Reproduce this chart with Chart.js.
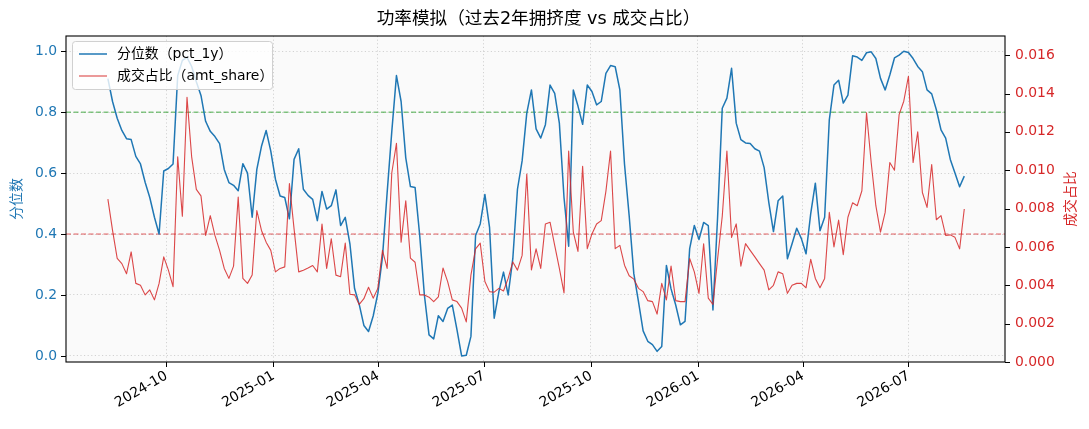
<!DOCTYPE html>
<html>
<head>
<meta charset="utf-8">
<script src="https://cdn.jsdelivr.net/npm/chart.js@4.4.1/dist/chart.umd.min.js"></script>
<style>
  html, body { margin: 0; padding: 0; background: #fff; }
</style>
</head>
<body>
<canvas id="chart" width="1089" height="429"></canvas>
<script>
// * data
const startDate = "2024-08-12"; // first sample, one sample every stepDays
const stepDays = 4;

const tickLabels = ["2024-10", "2025-01", "2025-04", "2025-07", "2025-10", "2026-01", "2026-04", "2026-07"];
const leftTicks = [0, 0.2, 0.4, 0.6, 0.8, 1.0];
const rightTicks = [0, 0.002, 0.004, 0.006, 0.008, 0.01, 0.012, 0.014, 0.016];

const highLine = 0.8;
const lowLine = 0.4;

const pctValues = [
  0.91, 0.835, 0.78, 0.74, 0.713, 0.71, 0.655, 0.63, 0.57, 0.52,
  0.455, 0.40, 0.607, 0.615, 0.63, 0.92, 0.97, 0.98, 0.95, 0.90,
  0.855, 0.77, 0.737, 0.72, 0.697, 0.612, 0.569, 0.56, 0.542, 0.631,
  0.60, 0.455, 0.612, 0.688, 0.74, 0.672, 0.58, 0.525, 0.52, 0.45,
  0.645, 0.68, 0.547, 0.527, 0.514, 0.444, 0.54, 0.482, 0.493, 0.545,
  0.428, 0.455, 0.368, 0.221, 0.169, 0.10, 0.08, 0.131, 0.205, 0.325,
  0.536, 0.737, 0.92, 0.835, 0.65, 0.556, 0.553, 0.395, 0.20, 0.069,
  0.056, 0.132, 0.113, 0.156, 0.167, 0.086, 0.0, 0.002, 0.064, 0.395,
  0.433, 0.53, 0.422, 0.124, 0.21, 0.275, 0.20, 0.319, 0.547, 0.64,
  0.797, 0.873, 0.745, 0.715, 0.759, 0.889, 0.862, 0.764, 0.52, 0.36,
  0.873, 0.82, 0.76, 0.889, 0.868, 0.824, 0.835, 0.927, 0.953, 0.949,
  0.873, 0.629, 0.46, 0.27, 0.178, 0.082, 0.048, 0.037, 0.015, 0.031,
  0.297, 0.22, 0.167, 0.102, 0.113, 0.352, 0.428, 0.382, 0.438, 0.428,
  0.151, 0.455, 0.813, 0.846, 0.944, 0.764, 0.71, 0.699, 0.697, 0.68,
  0.672, 0.618, 0.504, 0.408, 0.509, 0.525, 0.319, 0.368, 0.419, 0.385,
  0.335, 0.466, 0.567, 0.411, 0.455, 0.775, 0.889, 0.905, 0.83, 0.856,
  0.985, 0.981, 0.97, 0.995, 0.998, 0.976, 0.911, 0.873, 0.922, 0.978,
  0.987, 1.0, 0.996, 0.976, 0.95, 0.933, 0.873, 0.86, 0.808, 0.742,
  0.715, 0.645, 0.60, 0.555, 0.59,
];

const shareValues = [
  0.00849, 0.00686, 0.0054, 0.00513, 0.0046, 0.00574, 0.0041, 0.004, 0.0035, 0.00376,
  0.00324, 0.0041, 0.00548, 0.00479, 0.00393, 0.0107, 0.0076, 0.0138, 0.0107, 0.009,
  0.00866, 0.0066, 0.00763, 0.0066, 0.00582, 0.00488, 0.00436, 0.005, 0.0086, 0.00436,
  0.0041, 0.00454, 0.0079, 0.00686, 0.00625, 0.00582, 0.0047, 0.00488, 0.00496, 0.0093,
  0.00694, 0.0047, 0.00479, 0.0049, 0.00503, 0.0047, 0.0072, 0.00488, 0.00643, 0.00453,
  0.00445, 0.0062, 0.00353, 0.0035, 0.003, 0.0033, 0.0039, 0.00333, 0.00384, 0.00582,
  0.00488, 0.00987, 0.0114, 0.00625, 0.0084, 0.00542, 0.0052, 0.0035, 0.0035, 0.00338,
  0.00315, 0.0034, 0.0049, 0.00419, 0.00324, 0.00315, 0.00281, 0.00209, 0.00453, 0.0059,
  0.0062, 0.0042, 0.00367, 0.00364, 0.00384, 0.0037, 0.00436, 0.00522, 0.00479, 0.00556,
  0.0098, 0.0048, 0.0059, 0.00488, 0.0072, 0.00729, 0.00608, 0.00488, 0.0036, 0.011,
  0.00677, 0.00577, 0.0102, 0.00591, 0.00668, 0.0072, 0.00737, 0.0089, 0.011, 0.00591,
  0.00608, 0.00505, 0.0045, 0.00432, 0.00384, 0.00367, 0.0032, 0.00315, 0.0025, 0.0041,
  0.00324, 0.005, 0.0032, 0.00315, 0.00315, 0.0054, 0.0047, 0.00358, 0.00617, 0.00333,
  0.003, 0.00538, 0.0076, 0.011, 0.0065, 0.0072, 0.005, 0.00617, 0.00582, 0.00548,
  0.00513, 0.00479, 0.00376, 0.004, 0.0047, 0.0046, 0.00358, 0.004, 0.0041, 0.0041,
  0.00387, 0.00536, 0.00436, 0.00387, 0.00436, 0.0078, 0.006, 0.0074, 0.0056, 0.00755,
  0.0083, 0.00815, 0.00893, 0.013, 0.0104, 0.00815, 0.00677, 0.0078, 0.0104, 0.01,
  0.0129, 0.0136, 0.0149, 0.0104, 0.012, 0.00884, 0.00806, 0.0103, 0.00742, 0.00763,
  0.0066, 0.00663, 0.0065, 0.0059, 0.00798,
];

// * helpers
const BLUE = "#1f77b4";
const RED = "#d62728";
const FONT = '"DejaVu Sans", "Noto Sans CJK SC", sans-serif';

const dayMs = 86400000;
const t0 = Date.parse(startDate + "T00:00:00Z");
const dayOf = (s) => (Date.parse(s + "T00:00:00Z") - t0) / dayMs;
const tickDays = tickLabels.map((m) => dayOf(m + "-01"));

const xMin = -36;
const xMax = 771;

const pctPoints = pctValues.map((v, i) => ({ x: i * stepDays, y: v }));
const sharePoints = shareValues.map((v, i) => ({ x: i * stepDays, y: v }));

// * plot decorations (matplotlib look)
const decor = {
  id: "decor",
  beforeDraw(chart) {
    const { ctx, chartArea: a } = chart;
    ctx.save();
    ctx.fillStyle = "#fafafa";
    ctx.fillRect(a.left, a.top, a.right - a.left, a.bottom - a.top);
    ctx.restore();
  },
  afterDatasetsDraw(chart) {
    const { ctx, chartArea: a, scales } = chart;
    ctx.save();

    // legend
    const lx = 72.5, ly = 41.5, lw = 200, lh = 48;
    ctx.beginPath();
    ctx.roundRect(lx, ly, lw, lh, 3);
    ctx.fillStyle = "rgba(255,255,255,0.8)";
    ctx.fill();
    ctx.strokeStyle = "#d0d0d0";
    ctx.lineWidth = 1;
    ctx.stroke();
    const items = [
      { label: "分位数（pct_1y）", color: BLUE, width: 1.5, y: 54 },
      { label: "成交占比（amt_share）", color: "rgba(214,39,40,0.85)", width: 1.1, y: 76 },
    ];
    ctx.font = "13.9px " + FONT;
    ctx.textBaseline = "middle";
    ctx.textAlign = "left";
    items.forEach((it) => {
      ctx.beginPath();
      ctx.moveTo(79, it.y);
      ctx.lineTo(107, it.y);
      ctx.strokeStyle = it.color;
      ctx.lineWidth = it.width;
      ctx.stroke();
      ctx.fillStyle = "#000";
      ctx.fillText(it.label, 117, it.y);
    });

    // frame
    ctx.strokeStyle = "#000";
    ctx.lineWidth = 1.1;
    ctx.strokeRect(a.left, a.top, a.right - a.left, a.bottom - a.top);

    // tick marks
    ctx.lineWidth = 1;
    ctx.beginPath();
    tickDays.forEach((d) => {
      const x = Math.round(scales.x.getPixelForValue(d)) + 0.5;
      ctx.moveTo(x, a.bottom);
      ctx.lineTo(x, a.bottom + 5);
    });
    leftTicks.forEach((v) => {
      const y = Math.round(scales.y.getPixelForValue(v)) + 0.5;
      ctx.moveTo(a.left - 5, y);
      ctx.lineTo(a.left, y);
    });
    rightTicks.forEach((v) => {
      const y = Math.round(scales.y1.getPixelForValue(v)) + 0.5;
      ctx.moveTo(a.right, y);
      ctx.lineTo(a.right + 5, y);
    });
    ctx.stroke();

    // rotated date labels, top-right corner at the tick
    ctx.font = "13.9px " + FONT;
    ctx.fillStyle = "#000";
    ctx.textAlign = "right";
    ctx.textBaseline = "top";
    tickDays.forEach((d, i) => {
      const x = scales.x.getPixelForValue(d);
      ctx.save();
      ctx.translate(x - 3, a.bottom + 7);
      ctx.rotate(-Math.PI / 6);
      ctx.fillText(tickLabels[i], 0, 0);
      ctx.restore();
    });
    ctx.restore();
  },
  afterDraw(chart) {
    const { ctx, chartArea: a } = chart;
    ctx.save();
    ctx.textAlign = "center";
    ctx.textBaseline = "middle";
    ctx.fillStyle = "#000";
    ctx.font = "17.6px " + FONT;
    ctx.fillText("功率模拟（过去2年拥挤度 vs 成交占比）", (a.left + a.right) / 2 + 3, 19);

    const midY = (a.top + a.bottom) / 2;
    ctx.font = "13.9px " + FONT;
    ctx.fillStyle = BLUE;
    ctx.translate(17, midY);
    ctx.rotate(-Math.PI / 2);
    ctx.fillText("分位数", 0, 0);
    ctx.setTransform(1, 0, 0, 1, 0, 0);
    ctx.fillStyle = RED;
    ctx.translate(1071, midY);
    ctx.rotate(-Math.PI / 2);
    ctx.fillText("成交占比", 0, 0);
    ctx.restore();
  },
};

// * chart
const data = {
  datasets: [
    {
      label: "成交占比（amt_share）",
      data: sharePoints,
      yAxisID: "y1",
      borderColor: "rgba(214,39,40,0.85)",
      borderWidth: 1.1,
    },
    {
      label: "分位数（pct_1y）",
      data: pctPoints,
      yAxisID: "y",
      borderColor: BLUE,
      borderWidth: 1.5,
    },
    {
      label: "high",
      data: [{ x: xMin, y: highLine }, { x: xMax, y: highLine }],
      yAxisID: "y",
      borderColor: "rgba(44,160,44,0.85)",
      borderWidth: 1,
      borderDash: [5, 2.5],
    },
    {
      label: "low",
      data: [{ x: xMin, y: lowLine }, { x: xMax, y: lowLine }],
      yAxisID: "y",
      borderColor: "rgba(214,39,40,0.75)",
      borderWidth: 1,
      borderDash: [5, 2.5],
    },
  ],
};

const gridDash = [1.2, 2.4];

const config = {
  type: "line",
  data: data,
  options: {
    responsive: false,
    animation: false,
    layout: { padding: { top: 36, left: 0, right: 0, bottom: 0 } },
    elements: {
      point: { radius: 0 },
      line: { tension: 0, borderCapStyle: "butt", borderJoinStyle: "round" },
    },
    plugins: {
      legend: { display: false },
      title: { display: false },
      tooltip: { enabled: false },
    },
    scales: {
      x: {
        type: "linear",
        min: xMin,
        max: xMax,
        afterBuildTicks: (scale) => {
          scale.ticks = tickDays.map((d) => ({ value: d }));
        },
        afterFit: (scale) => {
          scale.height = 67;
        },
        ticks: { display: false },
        grid: {
          drawTicks: false,
          color: "rgba(0,0,0,0.2)",
          lineWidth: 0.8,
        },
        border: { display: false, dash: gridDash },
      },
      y: {
        position: "left",
        min: -0.02,
        max: 1.05,
        afterBuildTicks: (scale) => {
          scale.ticks = leftTicks.map((v) => ({ value: v }));
        },
        afterFit: (scale) => {
          scale.width = 66;
        },
        ticks: {
          padding: 9,
          color: BLUE,
          font: { family: FONT, size: 13.9 },
          callback: (value) => value.toFixed(1),
        },
        grid: {
          drawTicks: false,
          color: "rgba(0,0,0,0.2)",
          lineWidth: 0.8,
        },
        border: { display: false, dash: gridDash },
      },
      y1: {
        position: "right",
        min: 0,
        max: 0.017,
        afterBuildTicks: (scale) => {
          scale.ticks = rightTicks.map((v) => ({ value: v }));
        },
        afterFit: (scale) => {
          scale.width = 84;
        },
        ticks: {
          padding: 10,
          color: RED,
          font: { family: FONT, size: 13.9 },
          callback: (value) => value.toFixed(3),
        },
        grid: { drawOnChartArea: false, drawTicks: false },
        border: { display: false },
      },
    },
  },
  plugins: [decor],
};

const ctx = document.getElementById("chart").getContext("2d");
new Chart(ctx, config);
</script>
</body>
</html>
